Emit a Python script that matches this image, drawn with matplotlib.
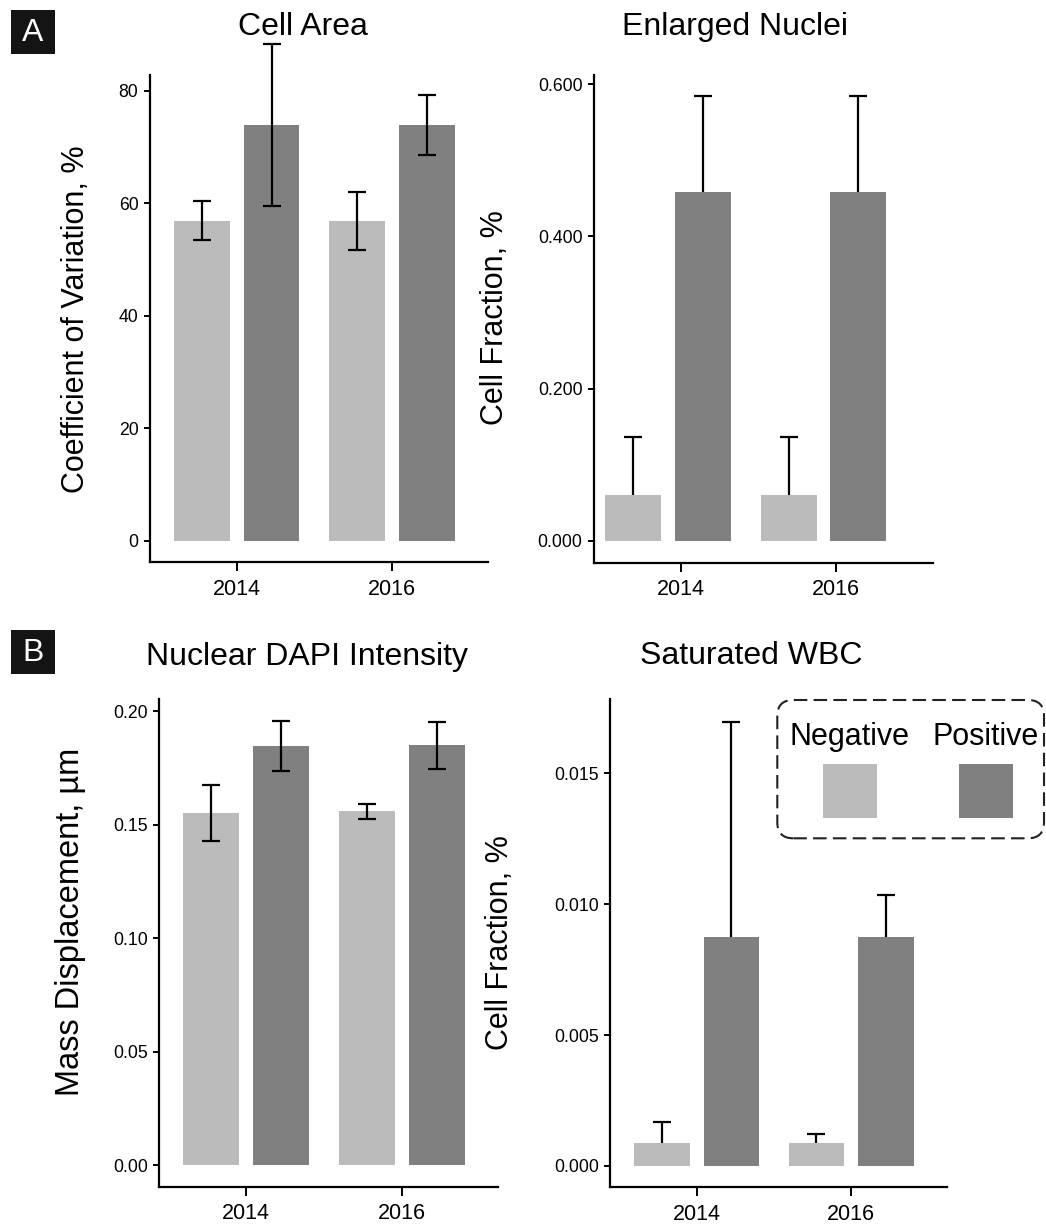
import numpy as np
import matplotlib
matplotlib.use("Agg")
import matplotlib.pyplot as plt
from matplotlib.patches import FancyBboxPatch, Rectangle
from matplotlib.ticker import FormatStrFormatter

plt.rcParams['font.family'] = ['Liberation Sans', 'DejaVu Sans']

years = ["2014", "2016"]
groups = ["Negative", "Positive"]
colors = {"Negative": "#bbbbbb", "Positive": "#808080"}

# Cell Area - coefficient of variation (%)
area_neg = [56.9, 56.9]
area_pos = [73.9, 73.9]
area_neg_err = [3.45, 5.15]
area_pos_err = [14.4, 5.35]

# Enlarged nuclei - cell fraction (%)
nuclei_neg = [0.060, 0.060]
nuclei_pos = [0.458, 0.458]
nuclei_neg_err = [0.077, 0.077]
nuclei_pos_err = [0.126, 0.126]

# Nuclear DAPI intensity - mass displacement (um)
dapi_neg = [0.1553, 0.1559]
dapi_pos = [0.1847, 0.1851]
dapi_neg_err = [0.01235, 0.0034]
dapi_pos_err = [0.01095, 0.01035]

# Saturated WBC - cell fraction (%)
wbc_neg = [0.00087, 0.00087]
wbc_pos = [0.00876, 0.00876]
wbc_neg_err = [0.00082, 0.00034]
wbc_pos_err = [0.00821, 0.00158]

W, H = 1046, 1224
fig = plt.figure(figsize=(W / 100, H / 100), dpi=100)


def ax_at(x0, y0, x1, y1):
    return fig.add_axes([x0 / W, 1 - y1 / H, (x1 - x0) / W, (y1 - y0) / H])


def panel(ax, neg, pos, neg_err, pos_err, ylim, ticks, fmt, one_sided, shift=0.0):
    x = np.arange(len(years))
    off, bw = 0.225, 0.36
    for vals, errs, g, sgn in [(neg, neg_err, "Negative", -1), (pos, pos_err, "Positive", 1)]:
        xs = x + sgn * off + shift
        ax.bar(xs, vals, width=bw, color=colors[g], zorder=2)
        errs = np.array(errs)
        yerr = [np.zeros_like(errs), errs] if one_sided else errs
        _, caps, _ = ax.errorbar(xs, vals, yerr=yerr, fmt='none', ecolor='black',
                                 elinewidth=1.6, capsize=6.2, capthick=1.6,
                                 zorder=3, clip_on=False)
        for c in caps:
            c.set_clip_on(False)
        if one_sided:
            caps[0].set_visible(False)
    ax.set_xlim(-0.558, 1.622)
    ax.set_ylim(*ylim)
    ax.set_xticks(x)
    ax.set_xticklabels(years)
    ax.set_yticks(ticks)
    ax.yaxis.set_major_formatter(FormatStrFormatter(fmt))
    for s in ["top", "right"]:
        ax.spines[s].set_visible(False)
    for s in ["left", "bottom"]:
        ax.spines[s].set_linewidth(1.6)
    ax.tick_params(axis='x', length=6.7, width=1.4, pad=5, labelsize=15.5, colors='black')
    ax.tick_params(axis='y', length=4.3, width=1.4, pad=4, labelsize=12.7, colors='black')


ax1 = ax_at(150, 74.6, 488.3, 562.5)
panel(ax1, area_neg, area_pos, area_neg_err, area_pos_err, (-3.9, 82.9),
      [0, 20, 40, 60, 80], '%d', False)

ax2 = ax_at(594, 74.6, 932.5, 562.6)
panel(ax2, nuclei_neg, nuclei_pos, nuclei_neg_err, nuclei_pos_err, (-0.0287, 0.6127),
      [0, 0.2, 0.4, 0.6], '%.3f', True, shift=-0.08)

ax3 = ax_at(159.3, 699, 498.3, 1186.5)
panel(ax3, dapi_neg, dapi_pos, dapi_neg_err, dapi_pos_err, (-0.0093, 0.2054),
      [0, 0.05, 0.10, 0.15, 0.20], '%.2f', False)

ax4 = ax_at(610.3, 699, 947.3, 1187.4)
panel(ax4, wbc_neg, wbc_pos, wbc_neg_err, wbc_pos_err, (-0.00082, 0.01784),
      [0, 0.005, 0.010, 0.015], '%.3f', True)


def ftext(x, y, s, **kw):
    fig.text(x / W, 1 - y / H, s, **kw)


# titles
ftext(303.3, 35, "Cell Area", ha='center', va='baseline', fontsize=23)
ftext(735.5, 35, "Enlarged Nuclei", ha='center', va='baseline', fontsize=23)
ftext(306.7, 665, "Nuclear DAPI Intensity", ha='center', va='baseline', fontsize=23)
ftext(751, 664, "Saturated WBC", ha='center', va='baseline', fontsize=23)

# y labels
ftext(76, 319, "Coefficient of Variation, %", rotation=90, ha='center', va='center', fontsize=22)
ftext(495, 318, "Cell Fraction, %", rotation=90, ha='center', va='center', fontsize=22)
ftext(71, 922, "Mass Displacement, µm", rotation=90, ha='center', va='center', fontsize=23.5)
ftext(500, 943, "Cell Fraction, %", rotation=90, ha='center', va='center', fontsize=22)

# panel letters
for letter, y0 in [("A", 10), ("B", 630)]:
    fig.patches.append(Rectangle((10.7 / 100, (H - y0 - 44) / 100), 0.443, 0.44,
                                 transform=fig.dpi_scale_trans, facecolor='#141414',
                                 edgecolor='none'))
    ftext(33, y0 + 23, letter, ha='center', va='center', fontsize=23, color='white')

# legend (drawn by hand: labels above the keys, dashed rounded frame)
box = FancyBboxPatch((777.3 / 100, (H - 838.3) / 100), (1044 - 777.3) / 100,
                     (838.3 - 700) / 100,
                     boxstyle="round,pad=0,rounding_size=0.16",
                     transform=fig.dpi_scale_trans, facecolor='white',
                     edgecolor='#222222', linewidth=1.5, linestyle=(0, (6.5, 3)),
                     clip_on=False, zorder=5)
fig.patches.append(box)
for g, cx in [("Negative", 850), ("Positive", 985.8)]:
    ftext(cx, 745, g, ha='center', va='baseline', fontsize=22, zorder=6)
    fig.patches.append(Rectangle(((cx - 27) / 100, (H - 818) / 100), 0.54, 0.54,
                                 transform=fig.dpi_scale_trans,
                                 facecolor=colors[g], edgecolor='none', zorder=6))

fig.savefig("out.png", dpi=100)
